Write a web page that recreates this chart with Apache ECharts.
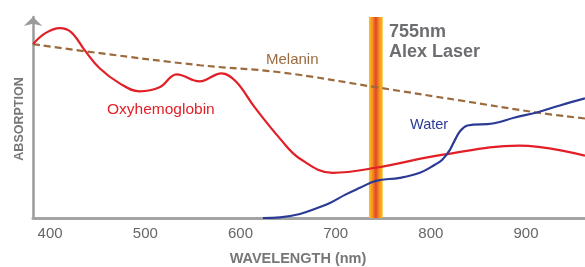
<!DOCTYPE html>
<html><head><meta charset="utf-8">
<script src="https://cdn.jsdelivr.net/npm/echarts@6/dist/echarts.min.js"></script>
<style>html,body{margin:0;padding:0;background:#fff}#c{width:585px;height:267px}</style>
</head><body><div id="c"></div>
<script>
const xTicks = [400, 500, 600, 700, 800, 900];
const oxyNm  = [382, 395, 410, 422, 437, 452, 473, 494, 515, 533, 557, 580, 595, 615, 641.5, 662.5, 697, 742, 813, 893, 962];
const oxyVal = [86.5, 92, 94.5, 92.5, 83, 74.5, 67, 63, 65, 71.5, 68, 72, 68, 55, 39.5, 29.5, 22.5, 25, 31.5, 36, 31];
const waterNm  = [623.6, 641.5, 662.5, 678.2, 694, 709.7, 725.5, 742.3, 767.5, 788.5, 804.3, 812, 819.5, 825, 831.3, 838.6, 865.2, 888.3, 911.4, 935.6, 962];
const waterVal = [0, 0.3, 2, 4.5, 7.5, 11.5, 15, 18.5, 20, 22.5, 26.5, 29, 33.5, 38.5, 43.5, 46, 47, 50, 52.5, 56, 59.5];
const melNm  = [382, 452.4, 557.4, 641.5, 743.3, 830.5, 911.4, 962];
const melVal = [86.5, 82, 76, 72.5, 65, 58.5, 52.5, 49.5];
const laserBand = [735, 749.5];

const zip = (a, b) => a.map((v, i) => [v, b[i]]);
const chart = echarts.init(document.getElementById('c'));
const font = 'Liberation Sans, Arial, Helvetica, sans-serif';
chart.setOption({
  animation: false,
  grid: { left: 33, right: 0, top: 17, bottom: 49 },
  xAxis: {
    type: 'value', min: 382, max: 962,
    axisLine: { lineStyle: { color: '#a3a3a3', width: 3 } },
    axisTick: { show: false },
    splitLine: { show: false },
    axisLabel: { customValues: xTicks, color: '#666', fontSize: 15, fontFamily: font, margin: 8 }
  },
  yAxis: {
    type: 'value', min: 0, max: 100,
    axisLine: { show: true, symbol: ['none', 'arrow'], symbolSize: [14, 9], lineStyle: { color: '#9a9a9a', width: 2.5 } },
    axisTick: { show: false }, axisLabel: { show: false }, splitLine: { show: false }
  },
  series: [
    { type: 'line', data: zip(melNm, melVal), smooth: 0.4, symbol: 'none',
      lineStyle: { color: '#9b6b3d', width: 2.2, type: [7, 4] },
      markArea: { silent: true, data: [[{ xAxis: laserBand[0], yAxis: 0 }, { xAxis: laserBand[1], yAxis: 100 }]],
        itemStyle: { color: new echarts.graphic.LinearGradient(0, 0, 1, 0, [
          { offset: 0, color: '#f9c22b' }, { offset: 0.25, color: '#f6921e' },
          { offset: 0.5, color: '#e2452a' }, { offset: 0.75, color: '#f6921e' }, { offset: 1, color: '#f9c22b' }]) } } },
    { type: 'line', data: zip(oxyNm, oxyVal), smooth: 0.4, symbol: 'none', lineStyle: { color: '#e21f26', width: 2.2 } },
    { type: 'line', data: zip(waterNm, waterVal), smooth: 0.4, symbol: 'none', lineStyle: { color: '#2b3a94', width: 2.2 } }
  ],
  graphic: [
    { type: 'text', x: 20, y: 119, rotation: Math.PI / 2, style: { text: 'ABSORPTION', fill: '#777', font: 'bold 12.5px ' + font, align: 'center', verticalAlign: 'middle' } },
    { type: 'text', x: 298, y: 259, style: { text: 'WAVELENGTH (nm)', fill: '#777', font: 'bold 14.5px ' + font, align: 'center', verticalAlign: 'middle' } },
    { type: 'text', x: 266, y: 60, style: { text: 'Melanin', fill: '#9b6b3d', font: '15px ' + font, verticalAlign: 'middle' } },
    { type: 'text', x: 107, y: 110, style: { text: 'Oxyhemoglobin', fill: '#e21f26', font: '15.5px ' + font, verticalAlign: 'middle' } },
    { type: 'text', x: 410, y: 125, style: { text: 'Water', fill: '#2b3a94', font: '14.5px ' + font, verticalAlign: 'middle' } },
    { type: 'text', x: 389, y: 32, style: { text: '755nm', fill: '#6d6e71', font: 'bold 18px ' + font, verticalAlign: 'middle' } },
    { type: 'text', x: 389, y: 52, style: { text: 'Alex Laser', fill: '#6d6e71', font: 'bold 18px ' + font, verticalAlign: 'middle' } }
  ]
});
</script></body></html>
